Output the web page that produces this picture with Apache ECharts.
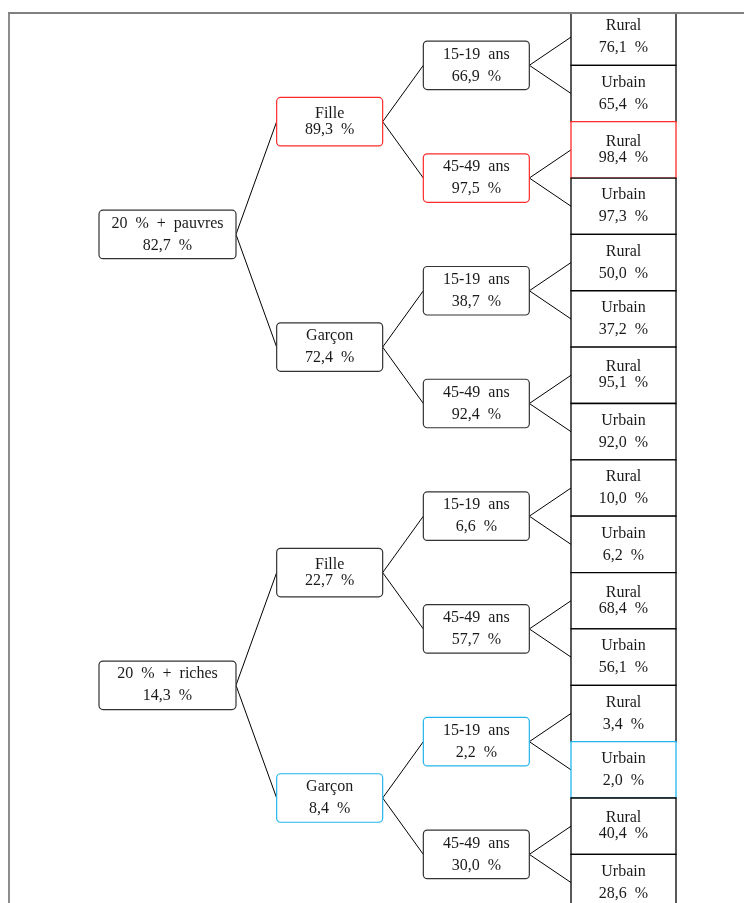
<!DOCTYPE html>
<html>
<head>
<meta charset="utf-8">
<script src="https://cdn.jsdelivr.net/npm/echarts@6/dist/echarts.min.js"></script>
<style>
html, body { margin: 0; padding: 0; background: #fff; }
#tree_chart { width: 744px; height: 903px; }
</style>
</head>
<body>
<div id="tree_chart"></div>
<script>
// data
var levelNames = ['Quintile', 'Sexe', 'Âge', 'Milieu'];
var quintiles = ['20  %  +  pauvres', '20  %  +  riches'];
var quintileRates = [82.7, 14.3];
var sexes = ['Fille', 'Garçon'];
var sexRates = [89.3, 72.4, 22.7, 8.4];
var ages = ['15-19  ans', '45-49  ans'];
var ageRates = [66.9, 97.5, 38.7, 92.4, 6.6, 57.7, 2.2, 30.0];
var milieux = ['Rural', 'Urbain'];
var milieuRates = [76.1, 65.4, 98.4, 97.3, 50.0, 37.2, 95.1, 92.0, 10.0, 6.2, 68.4, 56.1, 3.4, 2.0, 40.4, 28.6];

// style
var boxWidth = [137, 106, 106, 105];
var boxHeight = 48.5;
var tightLabels = ['1-0', '1-2', '3-2', '3-6', '3-10', '3-14'];
var maxColor = '#ff2a2a';
var minColor = '#22b5ee';

var levels = [
	{names : quintiles, rates : quintileRates},
	{names : sexes, rates : sexRates},
	{names : ages, rates : ageRates},
	{names : milieux, rates : milieuRates}
];
var last = levels.length - 1;

function fmt(v){
	return v.toFixed(1).replace('.', ',') + '  %';
}

// leaves sit on their index, a parent in the middle of its two children
function yOf(level, k){
	if(level == last){
		return k;
	}
	return (yOf(level + 1, 2 * k) + yOf(level + 1, 2 * k + 1)) / 2;
}

var maxLeaf = milieuRates.indexOf(Math.max.apply(null, milieuRates));
var minLeaf = milieuRates.indexOf(Math.min.apply(null, milieuRates));

function pathColor(level, k){
	if(level == 0) return null;
	var span = Math.pow(2, last - level);
	if(Math.floor(maxLeaf / span) == k) return maxColor;
	if(Math.floor(minLeaf / span) == k) return minColor;
	return null;
}

var nodes = [];
for(var l = 0; l < levels.length; l++){
	for(var k = 0; k < levels[l].rates.length; k++){
		nodes.push([l, yOf(l, k), k]);
	}
}

function renderNode(params, api){
	var level = api.value(0);
	var y = api.value(1);
	var k = api.value(2);
	var p = api.coord([level, y]);
	var band = api.size([1, 0])[0];
	var unit = api.size([0, 1])[1];
	var right = p[0] + band / 2;
	var w = boxWidth[level];
	var h = level == last ? unit : boxHeight;
	var children = [];

	if(level < last){
		for(var c = 2 * k; c <= 2 * k + 1; c++){
			var cp = api.coord([level + 1, yOf(level + 1, c)]);
			children.push({
				type : 'line',
				shape : {x1 : right, y1 : p[1], x2 : cp[0] + band / 2 - boxWidth[level + 1], y2 : cp[1]},
				style : {stroke : '#000', lineWidth : 1}
			});
		}
	}

	var color = pathColor(level, k);
	children.push({
		type : 'rect',
		shape : {x : right - w, y : p[1] - h / 2, width : w, height : h, r : level == last ? 0 : 4},
		style : {
			fill : '#fff',
			stroke : color || (level == last ? '#000' : '#333'),
			lineWidth : level == last ? 1.3 : 1.2
		}
	});

	var name = levels[level].names[k % 2];
	var tight = tightLabels.indexOf(level + '-' + k) >= 0;
	children.push({
		type : 'text',
		x : right - w / 2,
		y : p[1],
		style : {
			text : name + '\n' + fmt(levels[level].rates[k]),
			align : 'center',
			verticalAlign : 'middle',
			fontFamily : '"Liberation Serif", serif',
			fontSize : 16,
			lineHeight : tight ? 16 : 22,
			fill : '#1a1a1a'
		}
	});

	return {type : 'group', children : children};
}

var option = {
	animation : false,
	grid : {left : 89.33, width : 586.67, top : 8.94, height : 901.8, outerBoundsMode : 'none'},
	xAxis : {type : 'category', data : levelNames, show : false},
	yAxis : {type : 'value', min : -0.5, max : 15.5, inverse : true, show : false},
	graphic : [
		{type : 'rect', z : 100, shape : {x : 0, y : 0, width : 744, height : 12}, style : {fill : '#fff'}},
		{type : 'line', z : 101, shape : {x1 : 8, y1 : 13, x2 : 744, y2 : 13}, style : {stroke : '#808080', lineWidth : 2}},
		{type : 'line', z : 101, shape : {x1 : 9, y1 : 12, x2 : 9, y2 : 903}, style : {stroke : '#808080', lineWidth : 1.8}}
	],
	series : [
		{
			type : 'custom',
			renderItem : renderNode,
			data : nodes,
			clip : false,
			silent : true
		}
	]
};

var chart = echarts.init(document.getElementById('tree_chart'));
chart.setOption(option);
</script>
</body>
</html>
